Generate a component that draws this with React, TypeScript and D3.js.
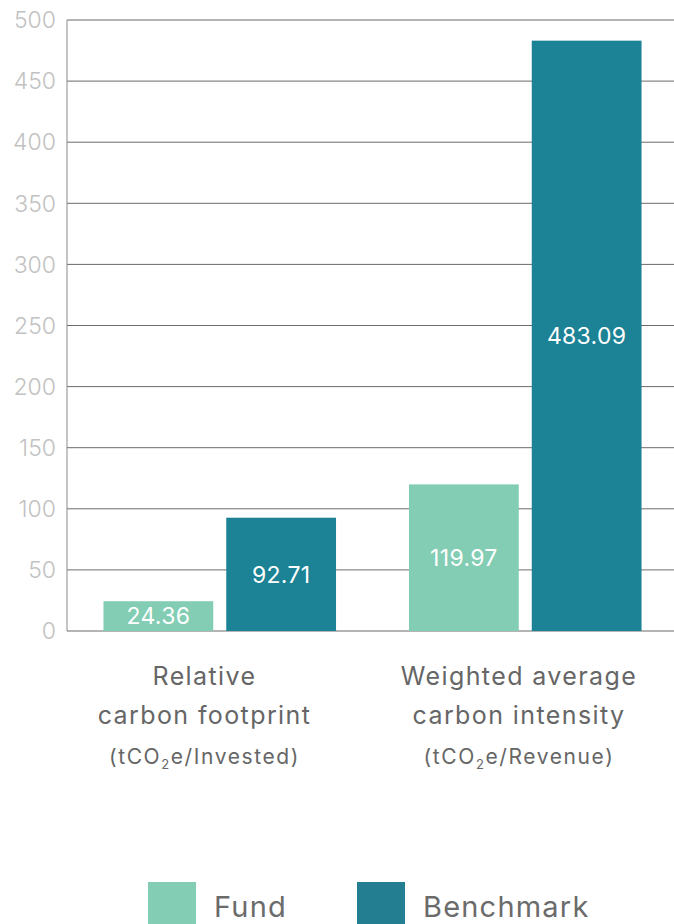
import React from 'react'
import * as d3 from 'd3'

const categories = ['cf', 'wa']
const categoryLines = [
  ['Relative', 'carbon footprint'],
  ['Weighted average', 'carbon intensity'],
]
const unitLabels = ['Invested', 'Revenue']
const seriesNames = ['Fund', 'Benchmark']
const fundValues = [24.36, 119.97]
const benchmarkValues = [92.71, 483.09]
const yTicks = [0, 50, 100, 150, 200, 250, 300, 350, 400, 450, 500]
const colors = ['#82cdb4', '#1c8295']

const W = 674
const H = 924
const left = 67
const gridRight = 674
const top = 20
const bottom = 631

export default function App() {
  // bands run a bit past the right edge, gridlines stop at the page edge
  const x = d3.scaleBand().domain(categories).range([left, 678])
  const inner = d3.scaleBand().domain(seriesNames).range([0, x.bandwidth()]).paddingInner(0.106).paddingOuter(0.297)
  const y = d3.scaleLinear().domain([0, 500]).range([bottom, top])
  // category captions sit a little left of the bar groups
  const labelX = d3.scalePoint().domain(categories).range([204.5, 519])
  const seriesVals = [fundValues, benchmarkValues]
  const font = 'Inter, "Open Sans", sans-serif'

  return (
    <svg width={W} height={H} style={{ position: 'absolute', left: 0, top: 0, fontFamily: font }}>
      {yTicks.map(t => (
        <g key={t}>
          <line x1={left} x2={gridRight} y1={y(t)} y2={y(t)} stroke="#6b6b6b" strokeWidth={1} />
          <text x={56} y={y(t)} dy="0.36em" textAnchor="end" fontSize={23} fontWeight={300} fill="#c2c2c2">{t}</text>
        </g>
      ))}
      <line x1={left} x2={left} y1={top} y2={bottom} stroke="#8a8a8a" strokeWidth={1} />
      {categories.map((c, ci) => (
        <g key={c} transform={`translate(${x(c)},0)`}>
          {seriesNames.map((s, si) => {
            const v = seriesVals[si][ci]
            const bx = inner(s)!
            return (
              <g key={s}>
                <rect x={bx} y={y(v)} width={inner.bandwidth()} height={y(0) - y(v)} fill={colors[si]} />
                <text x={bx + inner.bandwidth() / 2} y={(y(v) + y(0)) / 2} dy="0.36em" textAnchor="middle" fontSize={23} letterSpacing={0.3} fill="#ffffff">{v.toFixed(2)}</text>
              </g>
            )
          })}
        </g>
      ))}
      {categories.map((c, ci) => {
        const cx = labelX(c)!
        return (
          <g key={c + '-label'}>
            <text textAnchor="middle" fontSize={25} letterSpacing={1.4} fill="#666666">
              <tspan x={cx} y={685}>{categoryLines[ci][0]}</tspan>
              <tspan x={cx} y={724}>{categoryLines[ci][1]}</tspan>
            </text>
            <text x={cx} y={764} textAnchor="middle" fontSize={21} letterSpacing={1.6} fill="#666666">
              (tCO<tspan fontSize={13} dy={5}>2</tspan><tspan dy={-5}>e/{unitLabels[ci]})</tspan>
            </text>
          </g>
        )
      })}
      {seriesNames.map((s, i) => {
        const lx = [148, 357][i]
        return (
          <g key={s}>
            <rect x={lx} y={882} width={48} height={44} fill={i === 0 ? colors[0] : '#237e91'} />
            <text x={lx + 66} y={917} fontSize={29} letterSpacing={1.2} fill="#6b6b6b">{s}</text>
          </g>
        )
      })}
    </svg>
  )
}
